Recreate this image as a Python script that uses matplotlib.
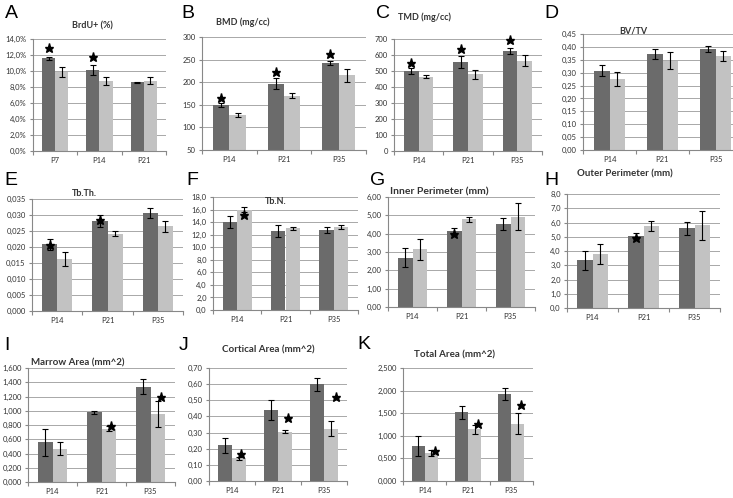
import matplotlib
matplotlib.use("Agg")
import matplotlib.pyplot as plt
import numpy as np

plt.rcParams['font.family'] = ['Lato', 'DejaVu Sans']

DARK = '#6b6b6b'
LIGHT = '#c2c2c2'
W, H = 733, 498

# ---- data ----
grp_a = ['P7', 'P14', 'P21']
grp = ['P14', 'P21', 'P35']

brdu_dark = [11.6, 10.1, 8.6]
brdu_dark_err = [0.2, 0.6, 0.05]
brdu_light = [9.9, 8.8, 8.8]
brdu_light_err = [0.6, 0.5, 0.4]

bmd_dark = [150, 197, 243]
bmd_dark_err = [4, 12, 4]
bmd_light = [127, 170, 215]
bmd_light_err = [4, 6, 14]

tmd_dark = [500, 557, 625]
tmd_dark_err = [18, 38, 18]
tmd_light = [465, 480, 565]
tmd_light_err = [10, 28, 35]

bvtv_dark = [0.308, 0.372, 0.392]
bvtv_dark_err = [0.022, 0.018, 0.013]
bvtv_light = [0.276, 0.347, 0.365]
bvtv_light_err = [0.027, 0.033, 0.018]

tbth_dark = [0.0208, 0.0281, 0.0306]
tbth_dark_err = [0.0018, 0.0018, 0.0015]
tbth_light = [0.0163, 0.0242, 0.0265]
tbth_light_err = [0.0022, 0.0008, 0.0017]

tbn_dark = [14.0, 12.6, 12.7]
tbn_dark_err = [0.9, 0.9, 0.5]
tbn_light = [16.0, 13.0, 13.2]
tbn_light_err = [0.4, 0.3, 0.3]

inner_dark = [2.70, 4.13, 4.52]
inner_dark_err = [0.5, 0.18, 0.33]
inner_light = [3.15, 4.78, 4.93]
inner_light_err = [0.58, 0.15, 0.75]

outer_dark = [3.35, 5.05, 5.58]
outer_dark_err = [0.65, 0.2, 0.45]
outer_light = [3.82, 5.75, 5.8]
outer_light_err = [0.7, 0.35, 1.0]

marrow_dark = [0.56, 0.98, 1.34]
marrow_dark_err = [0.19, 0.02, 0.1]
marrow_light = [0.47, 0.75, 0.95]
marrow_light_err = [0.09, 0.04, 0.18]

cort_dark = [0.22, 0.44, 0.60]
cort_dark_err = [0.045, 0.06, 0.04]
cort_light = [0.14, 0.305, 0.325]
cort_light_err = [0.01, 0.01, 0.045]

total_dark = [0.78, 1.52, 1.93]
total_dark_err = [0.22, 0.14, 0.13]
total_light = [0.62, 1.15, 1.27]
total_light_err = [0.07, 0.1, 0.23]

# significance stars: (group index, x offset from group centre, y value)
stars_a = [(0, -0.15, 12.9), (1, -0.15, 11.8)]
stars_b = [(0, -0.15, 165), (1, -0.15, 223), (2, -0.15, 262)]
stars_c = [(0, -0.15, 550), (1, -0.15, 637), (2, -0.15, 694)]
stars_e = [(0, -0.15, 0.0206), (1, -0.15, 0.0283)]
stars_f = [(0, 0.15, 15.1)]
stars_g = [(1, -0.15, 3.98)]
stars_h = [(1, -0.15, 4.92)]
stars_i = [(1, 0.2, 0.78), (2, 0.22, 1.19)]
stars_j = [(0, 0.2, 0.165), (1, 0.22, 0.39), (2, 0.25, 0.52)]
stars_k = [(0, 0.23, 0.66), (1, 0.23, 1.26), (2, 0.22, 1.68)]


def fmt(dec, pct=False):
    def f(v, pos):
        s = ('{:.%df}' % dec).format(v).replace('.', ',')
        return s + '%' if pct else s
    return f


fig = plt.figure(figsize=(W / 100, H / 100), dpi=100)


def panel(rect, cats, dark, dark_err, light, light_err, ylim, step, dec,
          title, title_xy, stars=(), pct=False, tsize=6.5, letter=None, letter_xy=None):
    l, t, r, b = rect
    ax = fig.add_axes([l / W, 1 - b / H, (r - l) / W, (b - t) / H])
    x = np.arange(len(cats))
    bw = 0.3
    ek = dict(ecolor='black', elinewidth=0.8, capsize=2.2, capthick=0.8)
    ax.bar(x - bw / 2, dark, bw, yerr=dark_err, color=DARK, error_kw=ek, zorder=2)
    ax.bar(x + bw / 2, light, bw, yerr=light_err, color=LIGHT, error_kw=ek, zorder=2)
    for gi, dx, yv in stars:
        ax.plot(gi + dx, yv, marker='*', color='black', markersize=6.5, zorder=4,
                clip_on=False)
    ax.set_xlim(-0.5, len(cats) - 0.5)
    ax.set_ylim(*ylim)
    ax.set_yticks(np.arange(ylim[0], ylim[1] + step / 2, step))
    ax.yaxis.set_major_formatter(plt.FuncFormatter(fmt(dec, pct)))
    ax.yaxis.grid(True, color='#a8a8a8', lw=0.7, zorder=0)
    ax.set_axisbelow(True)
    ax.set_xticks(np.arange(-0.5, len(cats), 1.0))
    ax.set_xticklabels([])
    ax.set_xticks(x, minor=True)
    ax.set_xticklabels(cats, minor=True)
    ax.tick_params(axis='x', which='minor', length=0, labelsize=5.5, pad=4, colors='#333333')
    ax.tick_params(axis='x', which='major', length=3, color='#888888')
    ax.tick_params(axis='y', length=2.5, labelsize=5.5, pad=2, color='#888888',
                   labelcolor='#333333')
    for s in ('top', 'right'):
        ax.spines[s].set_visible(False)
    for s in ('left', 'bottom'):
        ax.spines[s].set_color('#888888')
        ax.spines[s].set_linewidth(0.8)
    fig.text(title_xy[0] / W, 1 - title_xy[1] / H, title, ha='center', va='center',
             fontsize=tsize, fontweight='bold', color='#333333')
    if letter:
        fig.text(letter_xy[0] / W, 1 - letter_xy[1] / H, letter, ha='center', va='center',
                 fontsize=14, family='Liberation Sans')
    return ax


panel((33, 39, 166, 151), grp_a, brdu_dark, brdu_dark_err, brdu_light, brdu_light_err,
      (0, 14), 2, 1, 'BrdU+ (%)', (92, 26), stars_a, pct=True, letter='A', letter_xy=(11, 13))
panel((202, 37, 366, 150), grp, bmd_dark, bmd_dark_err, bmd_light, bmd_light_err,
      (50, 300), 50, 0, 'BMD (mg/cc)', (243, 22), stars_b, letter='B', letter_xy=(188, 13))
panel((394, 39, 542, 151), grp, tmd_dark, tmd_dark_err, tmd_light, tmd_light_err,
      (0, 700), 100, 0, 'TMD (mg/cc)', (425, 17), stars_c, letter='C', letter_xy=(383, 13))
panel((583, 34, 742, 150), grp, bvtv_dark, bvtv_dark_err, bvtv_light, bvtv_light_err,
      (0, 0.45), 0.05, 2, 'BV/TV', (633, 31), letter='D', letter_xy=(551, 13))
panel((32, 199, 183, 311), grp, tbth_dark, tbth_dark_err, tbth_light, tbth_light_err,
      (0, 0.035), 0.005, 3, 'Tb.Th.', (84, 193), stars_e, letter='E', letter_xy=(11, 180))
panel((213, 197, 358, 310), grp, tbn_dark, tbn_dark_err, tbn_light, tbn_light_err,
      (0, 18), 2, 1, 'Tb.N.', (276, 202), stars_f, letter='F', letter_xy=(192, 180))
panel((388, 197, 535, 307), grp, inner_dark, inner_dark_err, inner_light, inner_light_err,
      (0, 6), 1, 2, 'Inner Perimeter (mm)', (439, 192), stars_g, tsize=7.5,
      letter='G', letter_xy=(378, 180))
panel((567, 194, 720, 308), grp, outer_dark, outer_dark_err, outer_light, outer_light_err,
      (0, 8), 1, 1, 'Outer Perimeter (mm)', (625, 174), stars_h, tsize=7,
      letter='H', letter_xy=(551, 180))
panel((28, 368, 175, 482), grp, marrow_dark, marrow_dark_err, marrow_light, marrow_light_err,
      (0, 1.6), 0.2, 3, 'Marrow Area (mm^2)', (78, 363), stars_i, tsize=7,
      letter='I', letter_xy=(7, 346))
panel((209, 368, 347, 481), grp, cort_dark, cort_dark_err, cort_light, cort_light_err,
      (0, 0.7), 0.1, 2, 'Cortical Area (mm^2)', (268, 350), stars_j, tsize=7,
      letter='J', letter_xy=(184, 346))
panel((403, 368, 533, 481), grp, total_dark, total_dark_err, total_light, total_light_err,
      (0, 2.5), 0.5, 3, 'Total Area (mm^2)', (455, 355), stars_k, tsize=7,
      letter='K', letter_xy=(364, 344))

fig.savefig('out.png', dpi=100)
